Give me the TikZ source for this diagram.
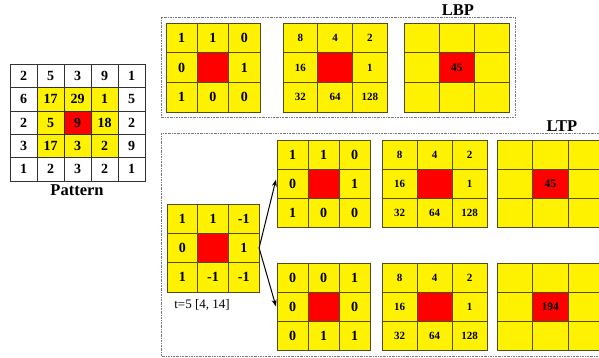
\documentclass[tikz,border=0pt]{standalone}
\usepackage{fontspec}
\setmainfont{Liberation Serif}
\usetikzlibrary{arrows.meta}
\definecolor{gline}{RGB}{85,75,20}
\definecolor{dline}{RGB}{120,120,120}
\tikzset{
  cell/.style={draw=gline, line width=0.6pt, inner sep=0pt, outer sep=0pt, text=black},
  pcell/.style={draw=black!80, line width=0.6pt, inner sep=0pt, outer sep=0pt, minimum width=27pt, minimum height=23.4pt, font=\fontsize{14}{14}\selectfont\bfseries},
  dbox/.style={draw=dline, line width=0.7pt, dash pattern=on 2pt off 1pt on 0.6pt off 1pt},
  bits/.style={font=\fontsize{14}{14}\selectfont\bfseries},
  wts/.style={font=\fontsize{11}{11}\selectfont\bfseries},
  res/.style={font=\fontsize{11.5}{11.5}\selectfont\bfseries},
  title/.style={font=\fontsize{16.5}{16.5}\selectfont\bfseries, inner sep=0pt},
  arr/.style={-{Stealth[length=7pt,width=5pt]}, line width=1pt, black}
}
% name, x0, y0, cellw, cellh, style, entries
\newcommand\mygrid[7]{%
  \foreach \t [count=\k from 0] in {#7}{%
    \pgfmathtruncatemacro\rr{int(\k/3)}%
    \pgfmathtruncatemacro\cc{mod(\k,3)}%
    \ifnum\k=4 \def\fc{red}\else\def\fc{yellow}\fi
    \node[cell, #6, fill=\fc, minimum width=#4pt, minimum height=#5pt] (#1-\rr-\cc) at ({#2+(\cc+0.5)*#4},{#3+(\rr+0.5)*#5}) {\t};
  }%
}
\begin{document}
\begin{tikzpicture}[x=1pt,y=-1pt]
\clip (0,0) rectangle (599,357);
\fill[white] (0,0) rectangle (599,357);

% Pattern grid
\foreach \row [count=\r from 0] in {{2,5,3,9,1},{6,17,29,1,5},{2,5,9,18,2},{3,17,3,2,9},{1,2,3,2,1}}{
  \foreach \v [count=\c from 0] in \row {
    \pgfmathtruncatemacro\inner{(\r>0)&&(\r<4)&&(\c>0)&&(\c<4)}
    \ifnum\inner=1 \def\fc{yellow}\else\def\fc{white}\fi
    \ifnum\r=2 \ifnum\c=2 \def\fc{red}\fi\fi
    \node[pcell, fill=\fc] (p-\r-\c) at ({10+(\c+0.5)*27},{64+(\r+0.5)*23.4}) {\v};
  }
}
\node[title] (ptitle) at (77,190) {Pattern};

% LBP box
\draw[dbox] (161,17) rectangle (515,117);
\node[title] (lbp) at (458,10) {LBP};
\mygrid{b1}{166}{23}{31.3}{29.7}{bits}{1,1,0,0,,1,1,0,0}
\mygrid{b2}{283}{23}{34.7}{29.7}{wts}{8,4,2,16,,1,32,64,128}
\mygrid{b3}{404}{23}{35}{29.7}{res}{,,,,45,,,,}

% LTP box
\draw[dbox] (161,133) rectangle (640,356);
\node[title] (ltp) at (562,126) {LTP};
\mygrid{lg}{167}{204}{30.7}{29.3}{bits}{1,1,-1,0,,1,1,-1,-1}
\node[font=\fontsize{13}{13}\selectfont, inner sep=0pt] (tlab) at (202,305) {t=5 [4, 14]};

\mygrid{ua}{277}{140}{31}{29}{bits}{1,1,0,0,,1,1,0,0}
\mygrid{ub}{382}{140}{35}{29}{wts}{8,4,2,16,,1,32,64,128}
\mygrid{uc}{497}{140}{35.5}{29}{res}{,,,,45,,,,}

\mygrid{la}{277}{263}{31}{29}{bits}{0,0,1,0,,0,0,1,1}
\mygrid{lb}{382}{263}{35}{29}{wts}{8,4,2,16,,1,32,64,128}
\mygrid{lc}{497}{263}{35.5}{29}{res}{,,,,194,,,,}

\draw[arr] (lg-1-2.east) -- ([xshift=-1pt,yshift=4pt]ua-1-0.west);
\draw[arr] (lg-1-2.east) -- ([xshift=-1pt]la-1-0.west);
\end{tikzpicture}
\end{document}
